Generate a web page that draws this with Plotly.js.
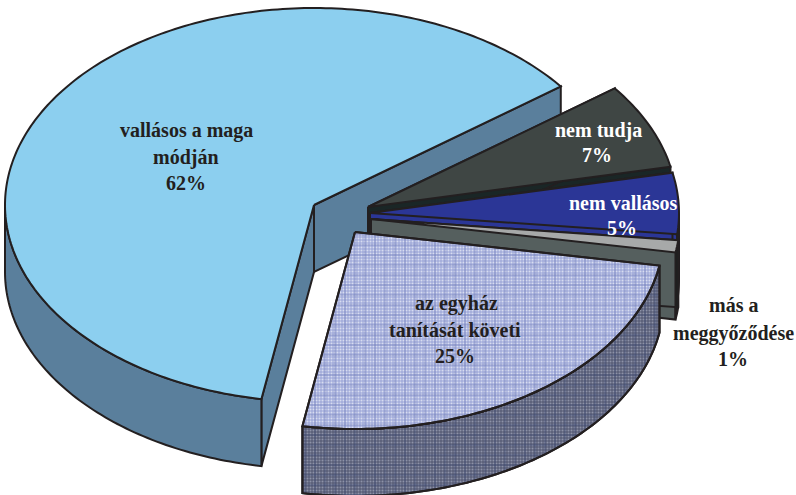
<!DOCTYPE html>
<html><head><meta charset="utf-8">
<script src="https://cdn.plot.ly/plotly-3.0.0.min.js"></script>
<style>html,body{margin:0;padding:0;background:#fff}</style>
</head><body><div id="chart" style="width:796px;height:495px"></div>
<script>
// Chart data (drawing order follows the picture)
const categories = ["vallásos a maga módján", "nem tudja", "nem vallásos", "más a meggyőződése", "az egyház tanítását követi"];
const percents = [62, 7, 5, 1, 25];

// Angular boundaries are derived from the values, counter-clockwise from this start
const startAngle = 37;
const sliceOrder = [0, 4, 3, 2, 1];      // counter-clockwise order around the pie
const drawOrder = [0, 1, 2, 3, 4];

// Exploded centre of each slice and pie shape
const centerX = [314, 368, 370, 371, 355];
const centerY = [205, 207, 213, 219, 232];
const rx = 309, ry = 197, depth = 67;

const topColors  = ["#8ccfef", "#3f4644", "#2b3696", "#a7a9a9", null];
const cutColors  = ["#5a7f9c", "#1a2626", "#2b3696", "#555f5e", null];
const rimColors  = ["#5a7f9c", "#1a2626", "#16182e", "#1a2020", null];
const edgeColor = "#231f20";

// Label lines
const labelLines = ["vallásos a maga","módján","62%","nem tudja","7%","nem vallásos","5%","az egyház","tanítását követi","25%","más a","meggyőződése","1%"];
const labelX = [186,186,186,598,597,623,622,456,455,455,733,733,733];
const labelY = [130,157,183,130,155,203,228,303,330,356,305,333,359];
const labelColor = ["#231f20","#231f20","#231f20","#fff","#fff","#fff","#fff","#231f20","#231f20","#231f20","#231f20","#231f20","#231f20"];

const rad = Math.PI/180;
const spans = {};
let a = startAngle;
sliceOrder.forEach(i => { const sw = percents[i]*3.6; spans[i] = [a, a+sw]; a += sw; });

function pt(i, t, dz){ return [centerX[i] + rx*Math.cos(t*rad), centerY[i] - ry*Math.sin(t*rad) + (dz||0)]; }
function arc(i, t0, t1, dz){ const n = Math.max(2, Math.ceil(Math.abs(t1-t0))); const o=[]; for(let k=0;k<=n;k++) o.push(pt(i, t0+(t1-t0)*k/n, dz)); return o; }

function poly(points, color, extra){
  const x = points.map(p=>p[0]).concat([points[0][0]]);
  const y = points.map(p=>p[1]).concat([points[0][1]]);
  return Object.assign({type:"scatter", mode:"lines", x, y, fill:"toself", fillcolor:color,
    line:{color:edgeColor, width:2, simplify:false}, hoverinfo:"skip", showlegend:false}, extra||{});
}
function topPoly(i){ const [s,e]=spans[i]; return [[centerX[i],centerY[i]]].concat(arc(i,s,e)); }
function cutPoly(i,t){ const e=pt(i,t); return [[centerX[i],centerY[i]], e, [e[0],e[1]+depth], [centerX[i],centerY[i]+depth]]; }
function rimPolys(i){
  // visible outer wall: the lower half of the ellipse only (180..360 degrees)
  const [s,e]=spans[i]; const res=[];
  [[180,360],[540,720]].forEach(([lo,hi])=>{
    const t0=Math.max(s,lo), t1=Math.min(e,hi);
    if(t1>t0) res.push(arc(i,t0,t1).concat(arc(i,t1,t0,depth)));
  });
  return res;
}

const traces=[];
drawOrder.forEach(i=>{
  const [s,e]=spans[i];
  const patterned = topColors[i]===null;
  if(patterned){
    rimPolys(i).forEach(p=>{
      traces.push(poly(p,"#666b84",{fillpattern:{shape:".",size:3,solidity:0.35,fgcolor:"#8d92a8",bgcolor:"#5a5f78"}}));
      traces.push(poly(p,"rgba(0,0,0,0)",{fillpattern:{shape:"+",size:10,solidity:0.12,fgcolor:"#3b4670",bgcolor:"rgba(0,0,0,0)"}}));
    });
    traces.push(poly(topPoly(i),"#b8c0e2",{fillpattern:{shape:".",size:3,solidity:0.35,fgcolor:"#d8dcf0",bgcolor:"#a3addb"}}));
    traces.push(poly(topPoly(i),"rgba(0,0,0,0)",{fillpattern:{shape:"+",size:10,solidity:0.1,fgcolor:"#6470b0",bgcolor:"rgba(0,0,0,0)"}}));
  } else {
    traces.push(poly(cutPoly(i,s),cutColors[i]));
    traces.push(poly(cutPoly(i,e),cutColors[i]));
    rimPolys(i).forEach(p=>traces.push(poly(p,rimColors[i])));
    traces.push(poly(topPoly(i),topColors[i]));
  }
});

const annotations = labelLines.map((t,k)=>({x:labelX[k],y:labelY[k],xref:"x",yref:"y",text:t,showarrow:false,
  xanchor:"center",yanchor:"middle",font:{family:"Liberation Serif",size:20,weight:700,color:labelColor[k]}}));

Plotly.newPlot("chart",traces,{
  width:796,height:495,margin:{l:0,r:0,t:0,b:0},paper_bgcolor:"#fff",plot_bgcolor:"#fff",showlegend:false,
  xaxis:{range:[0,796],visible:false,fixedrange:true},
  yaxis:{range:[495,0],visible:false,fixedrange:true},
  annotations
},{displayModeBar:false,staticPlot:true});
</script></body></html>
